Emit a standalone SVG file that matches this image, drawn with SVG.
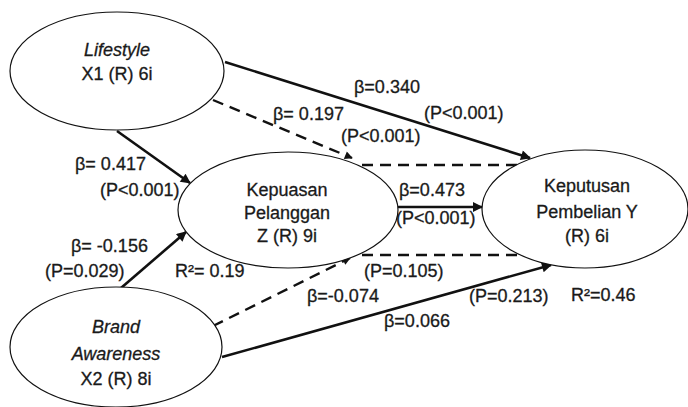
<svg xmlns="http://www.w3.org/2000/svg" width="688" height="407" viewBox="0 0 688 407">
<defs>
<style>
.node ellipse{fill:#fff;stroke:#111;stroke-width:1.2}
text{font-family:"Liberation Sans",Arial,sans-serif;font-size:18px;fill:#1a1a1a;stroke:#1a1a1a;stroke-width:0.3}
.nt{text-anchor:middle}
.it{font-style:italic}
.sol{fill:none;stroke:#111;stroke-width:2.6}
.dash{fill:none;stroke:#111;stroke-width:2.4;stroke-dasharray:11 7}
</style>
<marker id="ah" viewBox="0 0 10 10" refX="9" refY="5" markerWidth="12" markerHeight="10" markerUnits="userSpaceOnUse" orient="auto">
<path d="M0,0 L10,5 L0,10 z" fill="#111"/>
</marker>
<marker id="ahs" viewBox="0 0 10 10" refX="9" refY="5" markerWidth="9" markerHeight="8" markerUnits="userSpaceOnUse" orient="auto">
<path d="M0,0 L10,5 L0,10 z" fill="#111"/>
</marker>
</defs>
<rect width="688" height="407" fill="#fff"/>
<g id="connectors">
<line class="sol" x1="225" y1="62" x2="530" y2="158" marker-end="url(#ah)"/>
<line class="dash" x1="213" y1="100" x2="352" y2="158" marker-end="url(#ahs)"/>
<line class="dash" x1="362" y1="165" x2="517" y2="165"/>
<line class="sol" x1="117" y1="131" x2="190" y2="183" marker-end="url(#ah)"/>
<line class="sol" x1="398" y1="207" x2="482" y2="207" marker-end="url(#ah)"/>
<line class="sol" x1="121" y1="288" x2="186" y2="232" marker-end="url(#ah)"/>
<line class="dash" x1="213" y1="326" x2="350" y2="258" marker-end="url(#ahs)"/>
<line class="dash" x1="362" y1="255" x2="517" y2="255"/>
<line class="sol" x1="222" y1="357" x2="551" y2="265" marker-end="url(#ah)"/>
</g>
<g id="lifestyle" class="node">
<ellipse cx="117" cy="71" rx="107" ry="59"/>
<text class="nt it" x="117" y="56">Lifestyle</text>
<text class="nt" x="117" y="80">X1 (R) 6i</text>
</g>
<g id="kepuasan" class="node">
<ellipse cx="288" cy="210" rx="110" ry="58"/>
<text class="nt" x="287" y="196">Kepuasan</text>
<text class="nt" x="287" y="219">Pelanggan</text>
<text class="nt" x="287" y="242">Z (R) 9i</text>
</g>
<g id="keputusan" class="node">
<ellipse cx="585" cy="209" rx="103" ry="59"/>
<text class="nt" x="587" y="192">Keputusan</text>
<text class="nt" x="587" y="218">Pembelian Y</text>
<text class="nt" x="587" y="242">(R) 6i</text>
</g>
<g id="brand" class="node">
<ellipse cx="116" cy="347" rx="106" ry="60"/>
<text class="nt it" x="116" y="333">Brand</text>
<text class="nt it" x="116" y="360">Awareness</text>
<text class="nt" x="116" y="385">X2 (R) 8i</text>
</g>
<g id="labels">
<text x="354" y="93">β=0.340</text>
<text x="424" y="119">(P&lt;0.001)</text>
<text x="273" y="120">β= 0.197</text>
<text x="341" y="142">(P&lt;0.001)</text>
<text x="75" y="170">β= 0.417</text>
<text x="100" y="196">(P&lt;0.001)</text>
<text x="399" y="196">β=0.473</text>
<text x="396" y="224">(P&lt;0.001)</text>
<text x="71" y="252">β= -0.156</text>
<text x="45" y="277">(P=0.029)</text>
<text x="175" y="277">R²= 0.19</text>
<text x="364" y="277">(P=0.105)</text>
<text x="307" y="302">β=-0.074</text>
<text x="469" y="302">(P=0.213)</text>
<text x="571" y="301">R²=0.46</text>
<text x="384" y="327">β=0.066</text>
</g>
</svg>
